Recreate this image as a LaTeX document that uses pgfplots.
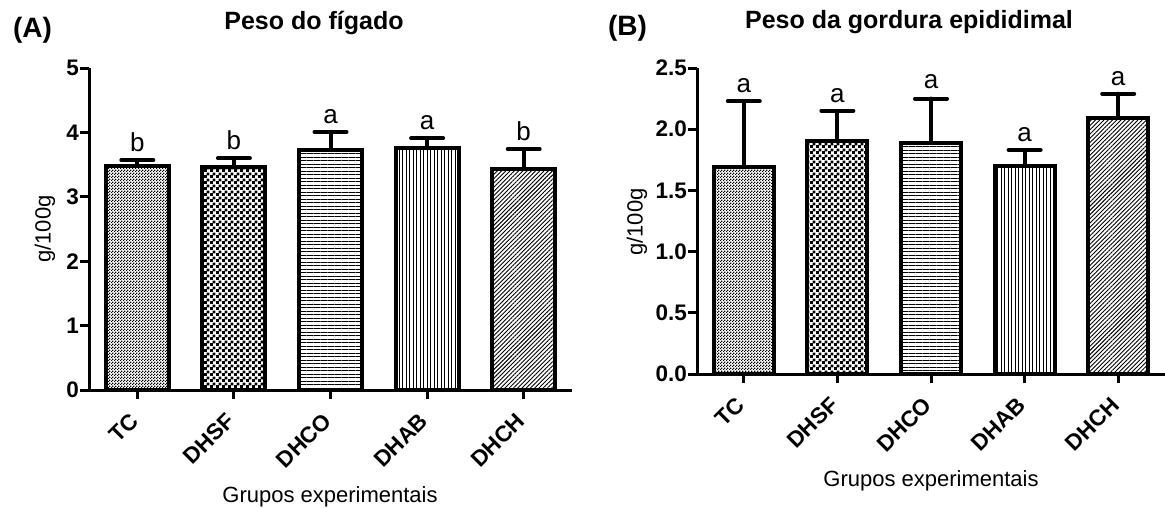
\documentclass[border=0pt]{standalone}
\usepackage{pgfplots}
\pgfplotsset{compat=1.18}
\usepackage{fontspec}
\setmainfont{Liberation Sans}
\usetikzlibrary{patterns,patterns.meta}

\pgfdeclarepatternformonly{finecheck}{\pgfpointorigin}{\pgfqpoint{3pt}{3pt}}{\pgfqpoint{3pt}{3pt}}{%
  \pgfpathrectangle{\pgfpointorigin}{\pgfqpoint{1.5pt}{1.5pt}}%
  \pgfpathrectangle{\pgfqpoint{1.5pt}{1.5pt}}{\pgfqpoint{1.5pt}{1.5pt}}%
  \pgfusepath{fill}}
\pgfdeclarepatternformonly{coarsecheck}{\pgfpointorigin}{\pgfqpoint{6pt}{6pt}}{\pgfqpoint{6pt}{6pt}}{%
  \pgfpathrectangle{\pgfpointorigin}{\pgfqpoint{3.2pt}{3.2pt}}%
  \pgfpathrectangle{\pgfqpoint{3pt}{3pt}}{\pgfqpoint{3.2pt}{3.2pt}}%
  \pgfusepath{fill}}

\newcommand{\tickfont}{\bfseries\fontsize{22.5}{22.5}\selectfont}
\newcommand{\labfont}{\fontsize{22}{22}\selectfont}
\newcommand{\letfont}{\fontsize{26}{26}\selectfont}

\pgfplotsset{
  panel/.style={
    scale only axis,
    axis lines*=left,
    axis line style={line width=3pt},
    clip=false,
    xmin=-0.5, xmax=4.5,
    xtick={0,1,2,3,4},
    xticklabels={TC,DHSF,DHCO,DHAB,DHCH},
    tick style={line width=3pt, black},
    major tick length=9pt,
    tick align=outside,
    xticklabel style={xshift=-3pt, yshift=-18pt, rotate=45, anchor=east, font=\tickfont, inner sep=0pt},
    yticklabel style={font=\tickfont, inner sep=1pt},
    /pgf/number format/assume math mode=true,
  },
  barA/.style={ybar, bar width=63pt, bar shift=0pt, draw=black, line width=4pt,
    error bars/.cd, y dir=plus, y explicit,
    error bar style={line width=4pt, line cap=round},
    error mark options={rotate=90, line width=4pt, mark size=16pt, line cap=round}},
  barB/.style={ybar, bar width=60pt, bar shift=0pt, draw=black, line width=4pt,
    error bars/.cd, y dir=plus, y explicit,
    error bar style={line width=4pt, line cap=round},
    error mark options={rotate=90, line width=4pt, mark size=16pt, line cap=round}},
  letters/.style={draw=none, mark=none, nodes near coords={\mbox{\letfont\pgfplotspointmeta}},
    point meta=explicit symbolic,
    nodes near coords style={anchor=south, inner sep=0pt, yshift=8pt}},
}

\begin{document}
\begin{tikzpicture}
\path[use as bounding box] (0,0) rectangle (1165pt,507pt);

% ---------- Panel A ----------
\begin{axis}[panel, at={(89pt,117pt)}, anchor=south west,
  width=483pt, height=322pt, ymin=0, ymax=5, ytick={0,1,2,3,4,5}]
\addplot[pattern=finecheck, barA] coordinates {(0,3.48) +- (0,0.09)};
\addplot[pattern=coarsecheck, barA] coordinates {(1,3.46) +- (0,0.14)};
\addplot[pattern={Lines[angle=0,distance=3.5pt,line width=0.9pt]}, barA] coordinates {(2,3.73) +- (0,0.28)};
\addplot[pattern={Lines[angle=90,distance=3.5pt,line width=0.9pt]}, barA] coordinates {(3,3.76) +- (0,0.15)};
\addplot[pattern={Lines[angle=45,distance=3pt,line width=0.9pt]}, barA] coordinates {(4,3.43) +- (0,0.31)};
\addplot[letters] coordinates {(0,3.57)[b] (1,3.60)[b] (2,4.01)[a] (3,3.91)[a] (4,3.74)[b]};
\end{axis}

% ---------- Panel B ----------
\begin{axis}[panel, at={(697pt,133pt)}, anchor=south west,
  width=468pt, height=306pt, ymin=0, ymax=2.5, ytick={0,0.5,1,1.5,2,2.5},
  yticklabel style={/pgf/number format/.cd, fixed, fixed zerofill, precision=1}]
\addplot[pattern=finecheck, barB] coordinates {(0,1.69) +- (0,0.54)};
\addplot[pattern=coarsecheck, barB] coordinates {(1,1.90) +- (0,0.25)};
\addplot[pattern={Lines[angle=0,distance=3.5pt,line width=0.9pt]}, barB] coordinates {(2,1.89) +- (0,0.36)};
\addplot[pattern={Lines[angle=90,distance=3.5pt,line width=0.9pt]}, barB] coordinates {(3,1.70) +- (0,0.13)};
\addplot[pattern={Lines[angle=45,distance=3pt,line width=0.9pt]}, barB] coordinates {(4,2.09) +- (0,0.20)};
\addplot[letters] coordinates {(0,2.23)[a] (1,2.15)[a] (2,2.26)[a] (3,1.83)[a] (4,2.29)[a]};
\end{axis}

% ---------- Texts ----------
\node[anchor=base, font=\bfseries\fontsize{28}{28}\selectfont] at (32.5pt,469pt) {(A)};
\node[anchor=base, font=\bfseries\fontsize{28}{28}\selectfont] at (627.5pt,471pt) {(B)};
\node[anchor=base, font=\bfseries\fontsize{25}{25}\selectfont] at (314pt,477pt) {Peso do fígado};
\node[anchor=base, font=\bfseries\fontsize{25}{25}\selectfont] at (909pt,478pt) {Peso da gordura epididimal};
\node[anchor=base, font=\labfont] at (330pt,5pt) {Grupos experimentais};
\node[anchor=base, font=\labfont] at (931pt,21pt) {Grupos experimentais};
\node[rotate=90, font=\labfont] at (45pt,278pt) {g/100g};
\node[rotate=90, font=\labfont] at (637pt,285pt) {g/100g};
\end{tikzpicture}
\end{document}
